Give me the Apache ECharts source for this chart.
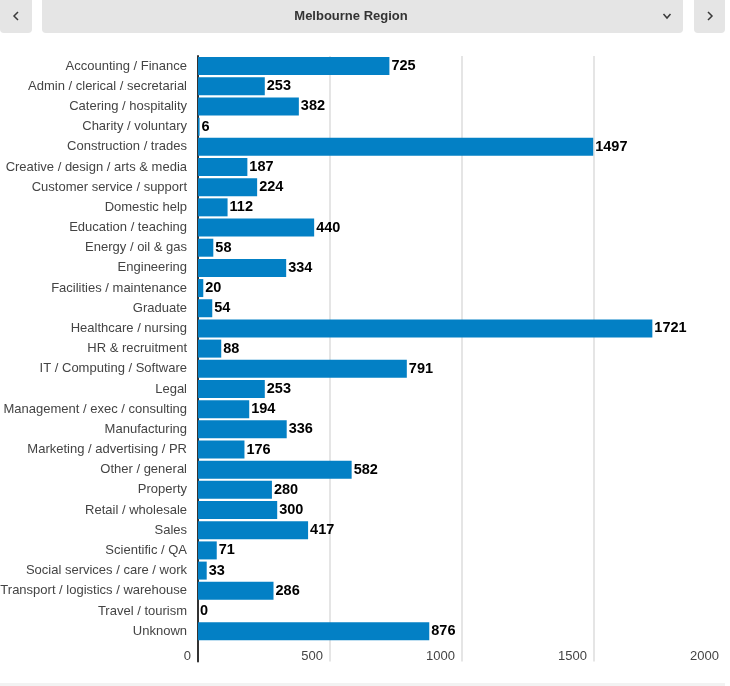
<!DOCTYPE html>
<html>
<head>
<meta charset="utf-8">
<style>
  html, body { margin: 0; padding: 0; background: #fff; }
  #main { width: 730px; height: 686px; }
</style>
<script src="https://cdn.jsdelivr.net/npm/echarts@6/dist/echarts.min.js"></script>
</head>
<body>
<div id="main"></div>
<script>
const regionTitle = 'Melbourne Region';
const categories = [
  'Accounting / Finance', 'Admin / clerical / secretarial', 'Catering / hospitality',
  'Charity / voluntary', 'Construction / trades', 'Creative / design / arts & media',
  'Customer service / support', 'Domestic help', 'Education / teaching',
  'Energy / oil & gas', 'Engineering', 'Facilities / maintenance', 'Graduate',
  'Healthcare / nursing', 'HR & recruitment', 'IT / Computing / Software', 'Legal',
  'Management / exec / consulting', 'Manufacturing', 'Marketing / advertising / PR',
  'Other / general', 'Property', 'Retail / wholesale', 'Sales', 'Scientific / QA',
  'Social services / care / work', 'Transport / logistics / warehouse',
  'Travel / tourism', 'Unknown',
];
const jobCounts = [
  725, 253, 382, 6, 1497, 187, 224, 112, 440, 58, 334, 20, 54, 1721, 88,
  791, 253, 194, 336, 176, 582, 280, 300, 417, 71, 33, 286, 0, 876,
];

const myChart = echarts.init(document.getElementById('main'), null, { renderer: 'canvas' });
const font = '"Liberation Sans", Arial, sans-serif';
const btnColor = '#e5e5e5';

function chevron(points) {
  return {
    type: 'polyline',
    shape: { points },
    style: { stroke: '#3a3a3a', lineWidth: 1.5, fill: null },
  };
}

myChart.setOption({
  animation: false,
  textStyle: { fontFamily: font },
  grid: { left: 198, right: 4, top: 56, bottom: 24.6, containLabel: false, outerBoundsMode: 'none' },
  xAxis: {
    type: 'value',
    min: 0,
    max: 2000,
    interval: 500,
    position: 'bottom',
    axisLine: { show: false },
    axisTick: { show: false },
    splitLine: {
      show: true,
      showMinLine: false,
      showMaxLine: false,
      lineStyle: { color: '#dddddd', width: 1.5 },
    },
    axisLabel: {
      inside: true,
      margin: -2,
      align: 'right',
      padding: [0, 7, 0, 0],
      color: '#444',
      fontSize: 13,
      fontFamily: font,
      formatter: (v) => String(v),
    },
  },
  yAxis: {
    type: 'category',
    inverse: true,
    // trailing blank row leaves room for the value labels inside the plot
    data: categories.concat(''),
    axisLine: { onZero: false, lineStyle: { color: '#333', width: 2 } },
    axisTick: { show: false },
    axisLabel: {
      interval: 0,
      margin: 11,
      padding: [6, 0, 0, 0],
      color: '#444',
      fontSize: 13,
      fontFamily: font,
    },
  },
  series: [{
    type: 'bar',
    data: jobCounts.concat(null),
    barWidth: 18,
    itemStyle: { color: '#0380c5' },
    label: {
      show: true,
      position: 'right',
      distance: 2,
      padding: [3, 0, 0, 0],
      color: '#000',
      fontSize: 14.5,
      fontWeight: 'bold',
      fontFamily: font,
    },
  }],
  graphic: [
    { type: 'rect', shape: { x: 0, y: -6, width: 32, height: 39, r: 4 }, style: { fill: btnColor } },
    { type: 'rect', shape: { x: 42, y: -6, width: 641, height: 39, r: 4 }, style: { fill: btnColor } },
    { type: 'rect', shape: { x: 694, y: -6, width: 31, height: 39, r: 4 }, style: { fill: btnColor } },
    { type: 'rect', shape: { x: 0, y: 683, width: 725, height: 3 }, style: { fill: '#f2f2f2' } },
    chevron([[18, 12], [14, 16], [18, 20]]),
    chevron([[663.5, 14], [667, 18], [670.5, 14]]),
    chevron([[708, 12], [712, 16], [708, 20]]),
    {
      type: 'text',
      style: {
        x: 351,
        y: 16.5,
        text: regionTitle,
        align: 'center',
        verticalAlign: 'middle',
        fill: '#333',
        font: 'bold 13px ' + font,
      },
    },
  ],
});
</script>
</body>
</html>
